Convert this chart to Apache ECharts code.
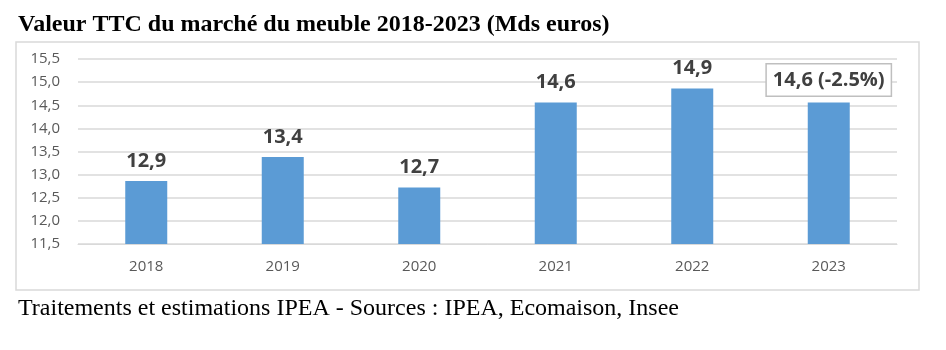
<!DOCTYPE html>
<html>
<head>
<meta charset="utf-8">
<script src="https://cdn.jsdelivr.net/npm/echarts@6/dist/echarts.min.js"></script>
<style>
  html, body { margin: 0; padding: 0; background: #fff; }
  #chart { width: 946px; height: 350px; }
</style>
</head>
<body>
<div id="chart"></div>
<script>
// données
var years = ["2018", "2019", "2020", "2021", "2022", "2023"];
var values = [12.86, 13.38, 12.72, 14.56, 14.86, 14.56];
var lastNote = "(-2.5%)";
var yTicks = [11.5, 12.0, 12.5, 13.0, 13.5, 14.0, 14.5, 15.0, 15.5];

function fr(v, d) {
  return v.toFixed(d).replace(".", ",");
}

var chart = echarts.init(document.getElementById("chart"));

var barData = values.map(function (v, i) {
  var item = { value: v };
  if (i === values.length - 1) {
    item.label = {
      formatter: function (p) { return fr(p.value, 1) + " " + lastNote; },
      borderColor: "#bfbfbf",
      borderWidth: 1.5,
      backgroundColor: "#fff",
      padding: [6, 6, 5, 6],
      distance: 7
    };
  }
  return item;
});

chart.setOption({
  animation: false,
  graphic: [
    {
      type: "rect",
      shape: { x: 16, y: 42, width: 903, height: 248 },
      style: { fill: "none", stroke: "#d9d9d9", lineWidth: 1.5 }
    },
    {
      type: "text",
      left: 18,
      top: 13,
      style: {
        text: "Valeur TTC du marché du meuble 2018-2023 (Mds euros)",
        font: "bold 24px 'Liberation Serif'",
        fill: "#000"
      }
    },
    {
      type: "text",
      left: 18,
      top: 297,
      style: {
        text: "Traitements et estimations IPEA - Sources : IPEA, Ecomaison, Insee",
        font: "24px 'Liberation Serif'",
        fill: "#000"
      }
    }
  ],
  grid: { left: 78, right: 49, top: 59, bottom: 106 },
  xAxis: {
    type: "category",
    data: years,
    axisLine: { lineStyle: { color: "#d9d9d9" } },
    axisTick: { show: false },
    axisLabel: { color: "#595959", fontSize: 15, fontFamily: "Open Sans", margin: 15 }
  },
  yAxis: {
    type: "value",
    min: yTicks[0],
    max: yTicks[yTicks.length - 1],
    interval: 0.5,
    axisLine: { show: false },
    axisTick: { show: false },
    splitLine: { lineStyle: { color: "#d9d9d9", width: 1.5 } },
    axisLabel: {
      color: "#595959",
      fontSize: 15,
      fontFamily: "Open Sans",
      margin: 18,
      formatter: function (v) { return fr(v, 1); }
    }
  },
  series: [
    {
      type: "bar",
      data: barData,
      barWidth: 42,
      itemStyle: { color: "#5b9bd5" },
      label: {
        show: true,
        position: "top",
        distance: 10,
        color: "#404040",
        fontSize: 20,
        fontWeight: "bold",
        fontFamily: "Open Sans",
        formatter: function (p) { return fr(p.value, 1); }
      }
    }
  ]
});
</script>
</body>
</html>
